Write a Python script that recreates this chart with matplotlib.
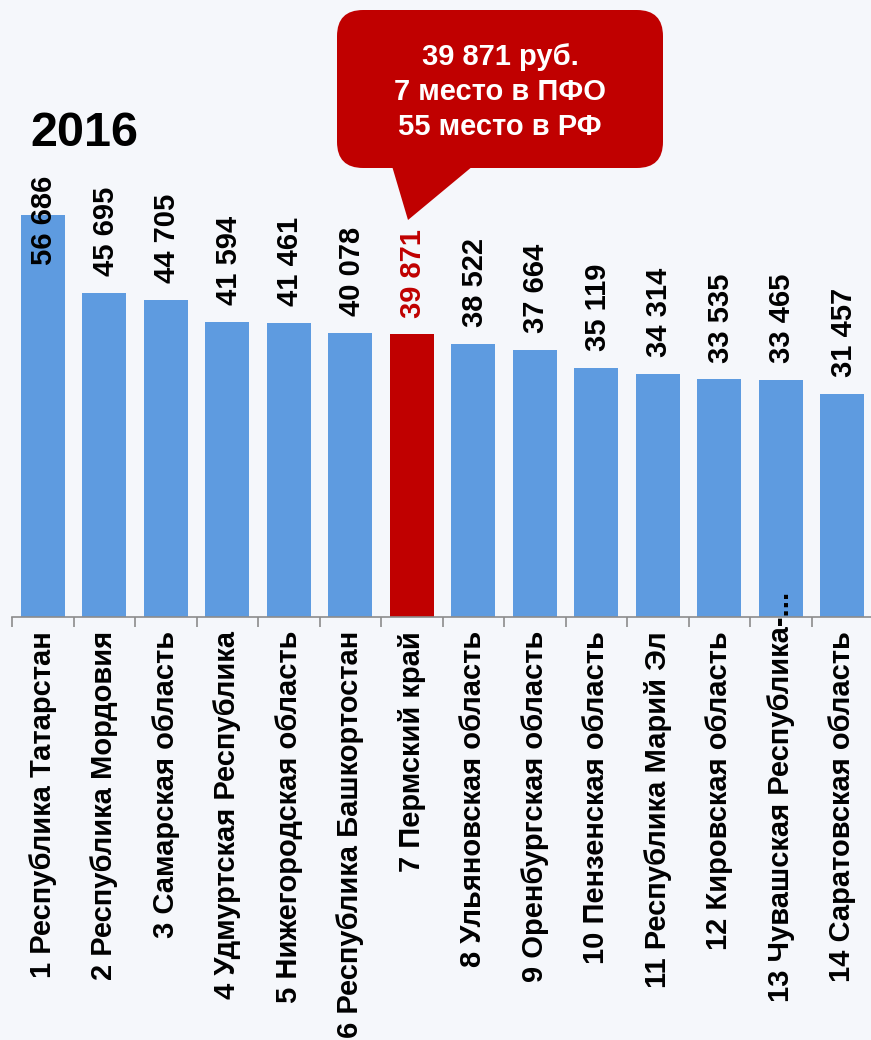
import matplotlib
matplotlib.use("Agg")
import matplotlib.pyplot as plt
from matplotlib.patches import FancyBboxPatch, Polygon
from matplotlib.transforms import ScaledTranslation

plt.rcParams['font.family'] = ['Liberation Sans', 'DejaVu Sans']

categories = ["1 Республика Татарстан", "2 Республика Мордовия", "3 Самарская область",
              "4 Удмуртская Республика", "5 Нижегородская область",
              "6 Республика Башкортостан", "7 Пермский край", "8 Ульяновская область",
              "9 Оренбургская область", "10 Пензенская область", "11 Республика Марий Эл",
              "12 Кировская область", "13 Чувашская Республика-...", "14 Саратовская область"]
values = [56686, 45695, 44705, 41594, 41461, 40078, 39871, 38522, 37664, 35119,
          34314, 33535, 33465, 31457]
value_labels = ["56 686", "45 695", "44 705", "41 594", "41 461", "40 078", "39 871",
                "38 522", "37 664", "35 119", "34 314", "33 535", "33 465", "31 457"]
highlight = 6
title = "2016"
callout = "39 871 руб.\n7 место в ПФО\n55 место в РФ"

BG = '#F5F7FB'
BLUE = '#5E9BE0'
RED = '#C00000'

W, H = 871, 1040
fig = plt.figure(figsize=(W/100, H/100), dpi=100, facecolor=BG)

ax_bottom = 617
ax_top = 150
ax = fig.add_axes([12/W, 1 - ax_bottom/H, 861/W, (ax_bottom - ax_top)/H])
ax.set_facecolor(BG)
ax.set_axisbelow(False)
px_per_unit = 402 / 56686
ax.set_ylim(0, (ax_bottom - ax_top) / px_per_unit)
ax.set_xlim(-0.5, len(values) - 0.5)

colors = [RED if i == highlight else BLUE for i in range(len(values))]
x = list(range(len(values)))
ax.bar(x, values, width=0.715, color=colors, zorder=1)

for i, (v, lab) in enumerate(zip(values, value_labels)):
    if i == 0:
        ax.annotate(lab, (i, v), xytext=(1, -36), textcoords='offset points',
                    rotation=90, ha='center', va='bottom', fontsize=21,
                    fontweight='bold', color='black', zorder=3)
    else:
        ax.annotate(lab, (i, v), xytext=(1, 12), textcoords='offset points',
                    rotation=90, ha='center', va='bottom', fontsize=21,
                    fontweight='bold', color=RED if i == highlight else 'black', zorder=3)

for s in ['top', 'right', 'left']:
    ax.spines[s].set_visible(False)
ax.spines['bottom'].set_color('#8C8C8C')
ax.spines['bottom'].set_linewidth(1.2)
ax.set_yticks([])
ax.set_xticks([i - 0.5 for i in range(len(values) + 1)], minor=False)
ax.set_xticklabels([])
ax.tick_params(axis='x', length=7, color='#8C8C8C', width=1.2, direction='out')
ax.set_xticks(x, minor=True)
ax.set_xticklabels(categories, minor=True, rotation=90, fontsize=21, fontweight='bold',
                   va='top', ha='center')
ax.tick_params(axis='x', which='minor', length=0, pad=10)
for i, lbl in enumerate(ax.get_xticklabels(minor=True)):
    if i == 12:
        lbl.set_transform(lbl.get_transform() + ScaledTranslation(0, 28/72, fig.dpi_scale_trans))

fig.text(30/W, 1 - 134/H, title, fontsize=35, fontweight='bold', ha='left', va='center')

# callout
bx0, by0, bx1, by1 = 337, 10, 663, 168
box = FancyBboxPatch((bx0/W, 1 - by1/H), (bx1-bx0)/W, (by1-by0)/H,
                     boxstyle="round,pad=0,rounding_size=0.03",
                     transform=fig.transFigure, facecolor=RED, edgecolor='none',
                     mutation_aspect=W/H)
fig.patches.append(box)
tri = Polygon([(392/W, 1 - 166/H), (473/W, 1 - 166/H), (408/W, 1 - 220/H)],
              closed=True, transform=fig.transFigure, facecolor=RED, edgecolor='none')
fig.patches.append(tri)
fig.text(500/W, 1 - 92/H, callout, fontsize=21, fontweight='bold', color='white',
         ha='center', va='center', linespacing=1.32)

fig.savefig('out.png', dpi=100, facecolor=BG)
